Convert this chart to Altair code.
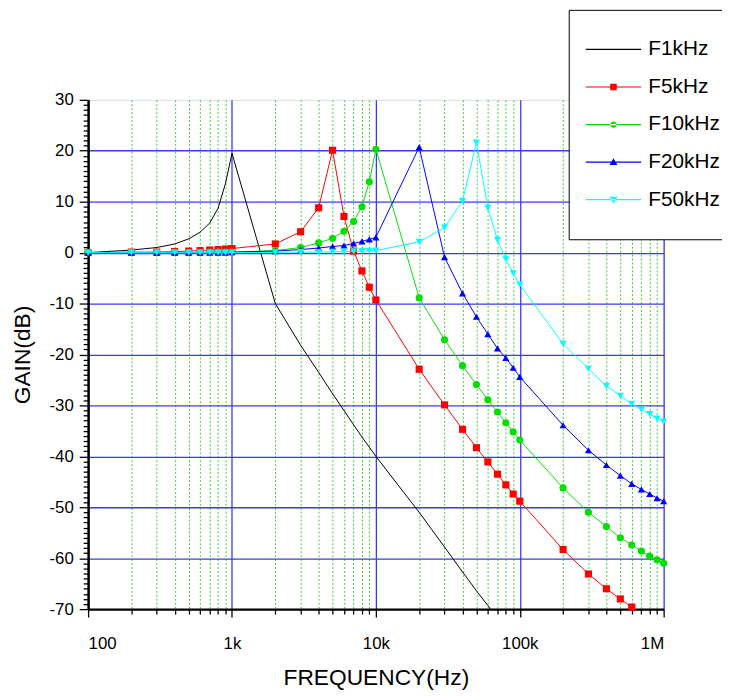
import altair as alt
import pandas as pd

# ---------------- data ----------------
freqs = [100, 200, 300, 400, 500, 600, 700, 800, 900,
         1000, 2000, 3000, 4000, 5000, 6000, 7000, 8000, 9000,
         10000, 20000, 30000, 40000, 50000, 60000, 70000, 80000, 90000,
         100000, 200000, 300000, 400000, 500000, 600000, 700000, 800000, 900000,
         1000000]

series_names = ["F1kHz", "F5kHz", "F10kHz", "F20kHz", "F50kHz"]
series_colors = ["#000000", "#ff0000", "#00e000", "#0000ff", "#00ffff"]
series_markers = [None, "square", "circle", "triangle-up", "triangle-down"]

f1k = [0.0, 0.5, 1.0, 1.7, 2.7, 4.0, 5.8, 8.7, 13.5,
       19.5, -10.0, -18.2, -23.5, -27.7, -31.0, -33.8, -36.2, -38.2,
       -40.0, -51.0, -57.8, -62.7, -66.4, -69.3, -71.8]

f5k = [0.0, 0.1, 0.1, 0.2, 0.3, 0.4, 0.5, 0.6, 0.7,
       0.8, 1.7, 4.1, 8.8, 20.1, 7.1, 0.3, -3.6, -6.8,
       -9.3, -22.9, -29.9, -34.7, -38.3, -41.1, -43.5, -45.6, -47.4,
       -48.8, -58.3, -63.1, -66.0, -68.0, -69.6]

f10k = [0.0, 0.0, 0.0, 0.0, 0.0, 0.0, 0.1, 0.1, 0.1,
        0.1, 0.4, 1.0, 1.9, 2.8, 4.2, 6.1, 9.0, 13.9,
        20.3, -8.9, -17.1, -22.2, -25.9, -28.9, -31.3, -33.4, -35.2,
        -36.8, -46.2, -51.0, -53.8, -56.0, -57.4, -58.6, -59.6, -60.3,
        -61.0]

f20k = [0.0, 0.0, 0.0, 0.0, 0.0, 0.0, 0.0, 0.0, 0.0,
        0.1, 0.3, 0.6, 0.9, 1.2, 1.4, 1.8, 2.2, 2.6,
        3.0, 20.7, -0.9, -8.0, -12.6, -16.0, -18.8, -20.7, -22.6,
        -24.4, -33.9, -38.8, -41.7, -43.8, -45.4, -46.5, -47.4, -48.2,
        -48.8]

f50k = [0.0, 0.0, 0.0, 0.0, 0.0, 0.0, 0.0, 0.0, 0.0,
        0.0, 0.05, 0.1, 0.1, 0.15, 0.2, 0.25, 0.3, 0.35,
        0.4, 2.1, 4.9, 10.1, 21.6, 8.8, 2.5, -1.3, -4.0,
        -6.3, -17.9, -22.8, -26.2, -28.1, -29.7, -30.8, -31.7, -32.6,
        -33.2]

series_values = [f1k, f5k, f10k, f20k, f50k]

# axis tick labels
x_label_values = [100, 1000, 10000, 100000, 1000000]
x_label_texts = ["100", "1k", "10k", "100k", "1M"]
y_ticks = list(range(-70, 31))

# ---------------- table ----------------
rows = []
for name, vals in zip(series_names, series_values):
    for f, g in zip(freqs, vals):
        rows.append({"series": name, "freq": f, "gain": g})
df = pd.DataFrame(rows)

FONT = "Liberation Sans"

decade_test = " || ".join(f"datum.value == {v}" for v in x_label_values)
label_expr = " : ".join(f"datum.value == {v} ? '{t}'" for v, t in zip(x_label_values, x_label_texts)) + " : ''"

x_axis = alt.Axis(
    values=freqs, labelExpr=label_expr, title="FREQUENCY(Hz)",
    labelOverlap=False, labelFont=FONT, labelFontSize=17, labelColor="#000",
    labelPadding=19, titleFont=FONT, titleFontSize=23, titleFontWeight="normal",
    titleColor="#000", titlePadding=15,
    domainColor="#000", domainWidth=2.5,
    tickColor="#000", tickWidth=1.3,
    tickSize={"condition": {"test": decade_test, "value": 8}, "value": 5},
    grid=True,
    gridColor={"condition": {"test": decade_test, "value": "#3a3af0"}, "value": "#3ccc3c"},
    gridDash={"condition": {"test": decade_test, "value": []}, "value": [2, 2]},
    gridWidth={"condition": {"test": decade_test, "value": 1.3}, "value": 1},
)

y_grid_test = "datum.value % 10 == 0 && datum.value < 30 && datum.value > -70"
y_axis = alt.Axis(
    values=y_ticks, labelExpr="datum.value % 10 == 0 ? '' + datum.value : ''",
    title="GAIN(dB)", labelOverlap=False,
    labelFont=FONT, labelFontSize=17, labelColor="#000", labelPadding=6,
    titleFont=FONT, titleFontSize=23, titleFontWeight="normal", titleColor="#000",
    titlePadding=15,
    domainColor="#000", domainWidth=2.5,
    tickColor="#000", tickWidth=1.3,
    tickSize={"condition": {"test": "datum.value % 10 == 0", "value": 9}, "value": 5},
    grid=True, gridColor="#3a3af0", gridWidth=1.3,
    gridOpacity={"condition": {"test": y_grid_test, "value": 1}, "value": 0},
)

x_enc = alt.X("freq:Q", scale=alt.Scale(type="log", domain=[100, 1000000]), axis=x_axis)
y_enc = alt.Y("gain:Q", scale=alt.Scale(domain=[-70, 30]), axis=y_axis)

base = alt.Chart(df)

layers = []
for name, color, shp in zip(series_names, series_colors, series_markers):
    sub = base.transform_filter(alt.datum.series == name)
    layers.append(
        sub.mark_line(strokeWidth=1, clip=True, color=color).encode(x=x_enc, y=y_enc, order="freq:Q")
    )
    if shp is not None:
        layers.append(
            sub.mark_point(shape=shp, filled=True, size=52, opacity=1, color=color)
            .encode(x=x_enc, y=y_enc)
        )

# legend symbols: a line with the marker in the middle (unit = 18.75 px);
# the two bare move-to points only set the symbol's box height
LINE = "M0,-1M0,1M-1.493,-0.032H1.493V0.032H-1.493Z"
legend_paths = [
    LINE,
    LINE + "M-0.176,-0.176H0.176V0.176H-0.176Z",
    LINE + "M-0.171,0A0.171,0.171 0 1,0 0.171,0A0.171,0.171 0 1,0 -0.171,0Z",
    LINE + "M0,-0.213L0.213,0.16L-0.213,0.16Z",
    LINE + "M0,0.213L0.213,-0.16L-0.213,-0.16Z",
]

legend = alt.Legend(
    orient="none", legendX=486, legendY=-91, title=None,
    strokeColor="#000", fillColor="#fff", padding=21,
    labelFont=FONT, labelFontSize=21, labelColor="#000", labelLimit=300,
    symbolSize=1406.25, symbolOffset=5.25, labelOffset=16.25, rowPadding=0,
    symbolStrokeWidth=0, symbolOpacity=1,
)

# invisible layer that only carries the legend
legend_layer = base.mark_point(filled=True, opacity=0, size=1).encode(
    x=x_enc, y=y_enc,
    color=alt.Color("series:N", scale=alt.Scale(domain=series_names, range=series_colors), legend=legend),
    shape=alt.Shape("series:N", scale=alt.Scale(domain=series_names, range=legend_paths), legend=legend),
)
layers.append(legend_layer)

chart = alt.layer(*layers).properties(
    width=582, height=515,
    autosize=alt.AutoSizeParams(type="none"),
    padding={"left": 81, "top": 89, "right": 59, "bottom": 84},
).configure_view(stroke=None).configure(background="white")

chart.save("out.html", embed_options={"renderer": "svg", "actions": False})
